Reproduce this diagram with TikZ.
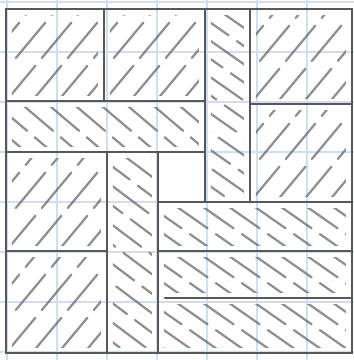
\documentclass[tikz,border=0pt]{standalone}
\usetikzlibrary{calc}
\definecolor{gridblue}{RGB}{208,222,240}
\definecolor{edgegray}{RGB}{88,88,88}
\definecolor{hatchgray}{RGB}{105,105,105}
\tikzset{
  gridline/.style={draw=gridblue,line width=1.3pt},
  edge/.style={draw=edgegray,line width=2.6pt,line cap=round},
  hatchstroke/.style={draw=hatchgray,line width=2.2pt,line cap=round,opacity=0.75,
    dash pattern=on 46pt off 10pt},
}
% /-hatch : region x0 y0 x1 y1
\newcommand\hatchUp[4]{%
  \begin{scope}
    \clip (#1+6,#2+6) rectangle (#3-6,#4-6);
    \foreach \c in {-104,-78,...,230}{
      \draw[hatchstroke] ({#1+\c},{#4}) -- ++(130,-156);
    }
  \end{scope}}
% \-hatch : region x0 y0 x1 y1 slope
\newcommand\hatchDown[5]{%
  \begin{scope}
    \clip (#1+6,#2+6) rectangle (#3-6,#4-6);
    \foreach \c in {-300,-274,...,230}{
      \draw[hatchstroke] ({#1+\c},{#2}) -- ++(500,{500*#5});
    }
  \end{scope}}
\begin{document}
\begin{tikzpicture}[x=1pt,y=-1pt]
\useasboundingbox (0,0) rectangle (354,360);
\fill[white] (0,0) rectangle (354,360);
% light blue squared paper
\foreach \g in {7,57,...,357}{\draw[gridline] (\g,0) -- (\g,360);}
\foreach \g in {2,52,...,352}{\draw[gridline] (0,\g) -- (354,\g);}
% hatching
\hatchUp{6}{9}{104}{101}
\hatchUp{104}{9}{205}{101}
\hatchUp{250}{9}{352}{104}
\hatchUp{250}{104}{352}{202}
\hatchUp{6}{152}{107}{251}
\hatchUp{6}{251}{107}{353}
\hatchDown{205}{9}{250}{202}{0.7}
\hatchDown{6}{101}{205}{152}{0.85}
\hatchDown{107}{152}{158}{353}{0.75}
\hatchDown{158}{202}{352}{251}{0.7}
\hatchDown{158}{251}{352}{298}{0.7}
\hatchDown{158}{298}{352}{353}{0.7}
% outlines
\draw[edge] (6,9) rectangle (352,353);
\draw[edge] (104,9) -- (104,101);
\draw[edge] (205,9) -- (205,202);
\draw[edge] (250,9) -- (250,202);
\draw[edge] (250,104) -- (352,104);
\draw[edge] (6,101) -- (205,101);
\draw[edge] (6,152) -- (205,152);
\draw[edge] (107,152) -- (107,353);
\draw[edge] (158,152) -- (158,353);
\draw[edge] (158,202) -- (352,202);
\draw[edge] (6,251) -- (107,251);
\draw[edge] (158,251) -- (352,251);
\draw[edge] (165,298) -- (352,298);
\end{tikzpicture}
\end{document}
